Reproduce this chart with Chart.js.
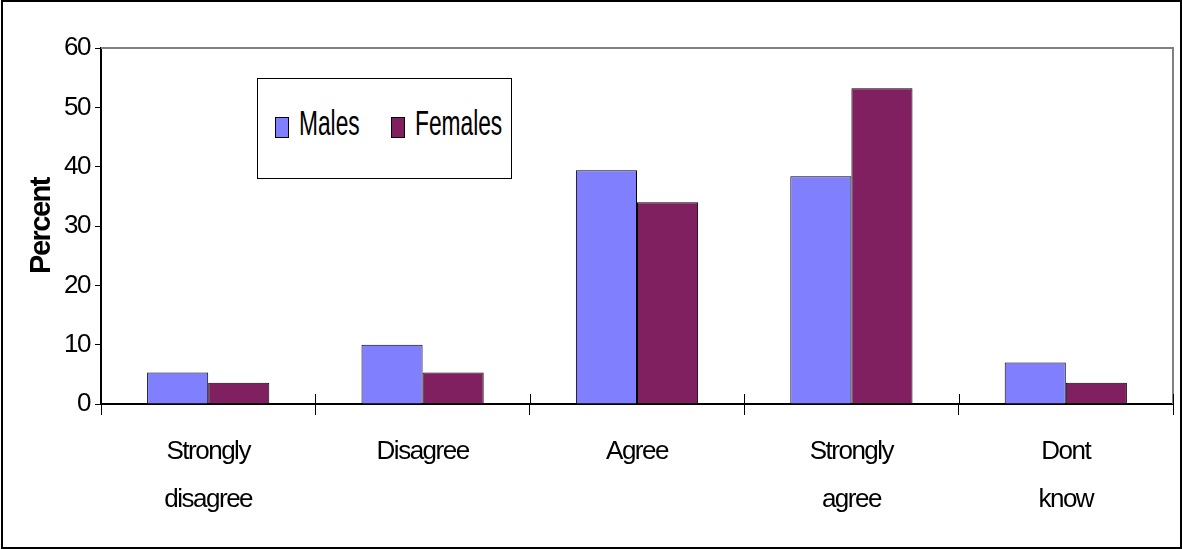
<!DOCTYPE html>
<html>
<head>
<meta charset="utf-8">
<script src="https://cdn.jsdelivr.net/npm/chart.js@4.4.1/dist/chart.umd.min.js"></script>
<style>
  html, body { margin: 0; padding: 0; background: #ffffff; }
  #wrap { position: relative; width: 1182px; height: 549px; }
  #legend {
    position: absolute; left: 257px; top: 78px; width: 253px; height: 99px;
    border: 1px solid #000; background: #fff; box-sizing: content-box;
    font-family: "Liberation Sans", Arial, sans-serif;
  }
  .item { position: absolute; top: 38px; height: 21px; }
  .sw { position: absolute; top: 0; width: 12px; height: 19px; border: 1px solid #000; }
  .lbl {
    position: absolute; top: -16px; font-size: 35px; line-height: 44px; color: #000;
    white-space: nowrap; transform: scaleX(0.65); transform-origin: 0 50%;
  }
</style>
</head>
<body>
<div id="wrap">
  <canvas id="c" width="1182" height="549"></canvas>
  <div id="legend"></div>
</div>
<script>
// Survey responses by sex, in percent
const categories = [["Strongly", "disagree"], "Disagree", "Agree", ["Strongly", "agree"], ["Dont", "know"]];
const males = [5.3, 10.0, 39.4, 38.4, 7.0];
const females = [3.6, 5.3, 34.0, 53.2, 3.6];
const yTicks = [0, 10, 20, 30, 40, 50, 60];

const FONT = '"Liberation Sans", Arial, sans-serif';

// Narrow text spacing for all canvas text
const tightText = {
  id: 'tightText',
  beforeLayout(chart) { chart.ctx.letterSpacing = '-1.5px'; },
  beforeDraw(chart) { chart.ctx.letterSpacing = '-1.5px'; }
};

// Plot frame (gray top/right), tick marks crossing the category axis, outer border
const frame = {
  id: 'frame',
  afterDraw(chart) {
    const ctx = chart.ctx;
    const a = chart.chartArea;
    const xs = chart.scales.x;
    ctx.save();
    ctx.letterSpacing = '0px';
    ctx.strokeStyle = '#808080';
    ctx.lineWidth = 2;
    ctx.beginPath();
    ctx.moveTo(a.left, a.top);
    ctx.lineTo(a.right, a.top);
    ctx.lineTo(a.right, a.bottom);
    ctx.stroke();

    ctx.strokeStyle = '#000';
    ctx.lineWidth = 1;
    const n = chart.data.labels.length;
    const step = (xs.right - xs.left) / n;
    ctx.beginPath();
    for (let i = 0; i <= n; i++) {
      const x = Math.round(xs.left + i * step) + 0.5;
      ctx.moveTo(x, a.bottom - 10);
      ctx.lineTo(x, a.bottom);
    }
    ctx.stroke();

    ctx.lineWidth = 2;
    ctx.strokeRect(2, 1, chart.width - 3, chart.height - 2);
    ctx.restore();
  }
};

const chart = new Chart(document.getElementById('c'), {
  type: 'bar',
  data: {
    labels: categories,
    datasets: [
      { label: 'Males', data: males, backgroundColor: '#8080FF', borderColor: '#000', borderWidth: 1 },
      { label: 'Females', data: females, backgroundColor: '#802060', borderColor: '#000', borderWidth: 1 }
    ]
  },
  options: {
    responsive: false,
    animation: false,
    devicePixelRatio: 1,
    categoryPercentage: 0.57,
    barPercentage: 1.0,
    layout: { padding: { top: 48, right: 9, left: 0, bottom: 0 } },
    plugins: { legend: { display: false }, tooltip: { enabled: false } },
    scales: {
      x: {
        offset: true,
        grid: { offset: true, drawOnChartArea: false, tickLength: 11, color: '#000', lineWidth: 1 },
        border: { color: '#000', width: 2 },
        ticks: {
          color: '#000', padding: 12, maxRotation: 0, autoSkip: false,
          font: { family: FONT, size: 26, lineHeight: 1.88 }
        },
        afterFit(s) { s.height = 145; }
      },
      y: {
        min: 0, max: 60,
        afterBuildTicks(s) { s.ticks = yTicks.map(v => ({ value: v })); },
        grid: { drawOnChartArea: false, tickLength: 6, color: '#000', lineWidth: 1 },
        border: { color: '#000', width: 2 },
        ticks: { color: '#000', padding: 5, font: { family: FONT, size: 26 } },
        title: {
          display: true, text: 'Percent', color: '#000',
          font: { family: FONT, size: 29, weight: 'bold', lineHeight: 1.2 },
          padding: { top: 25, bottom: 0 }
        },
        afterFit(s) { s.width = 101; }
      }
    }
  },
  plugins: [tightText, frame]
});

// Legend box built from the chart's datasets
const legend = document.getElementById('legend');
const swatchX = [17, 133];
chart.data.datasets.forEach((ds, i) => {
  const item = document.createElement('div');
  item.className = 'item';
  item.style.left = swatchX[i] + 'px';
  const sw = document.createElement('div');
  sw.className = 'sw';
  sw.style.left = '0px';
  sw.style.background = ds.backgroundColor;
  const lbl = document.createElement('span');
  lbl.className = 'lbl';
  lbl.style.left = '24px';
  lbl.textContent = ds.label;
  item.appendChild(sw);
  item.appendChild(lbl);
  legend.appendChild(item);
});
</script>
</body>
</html>
